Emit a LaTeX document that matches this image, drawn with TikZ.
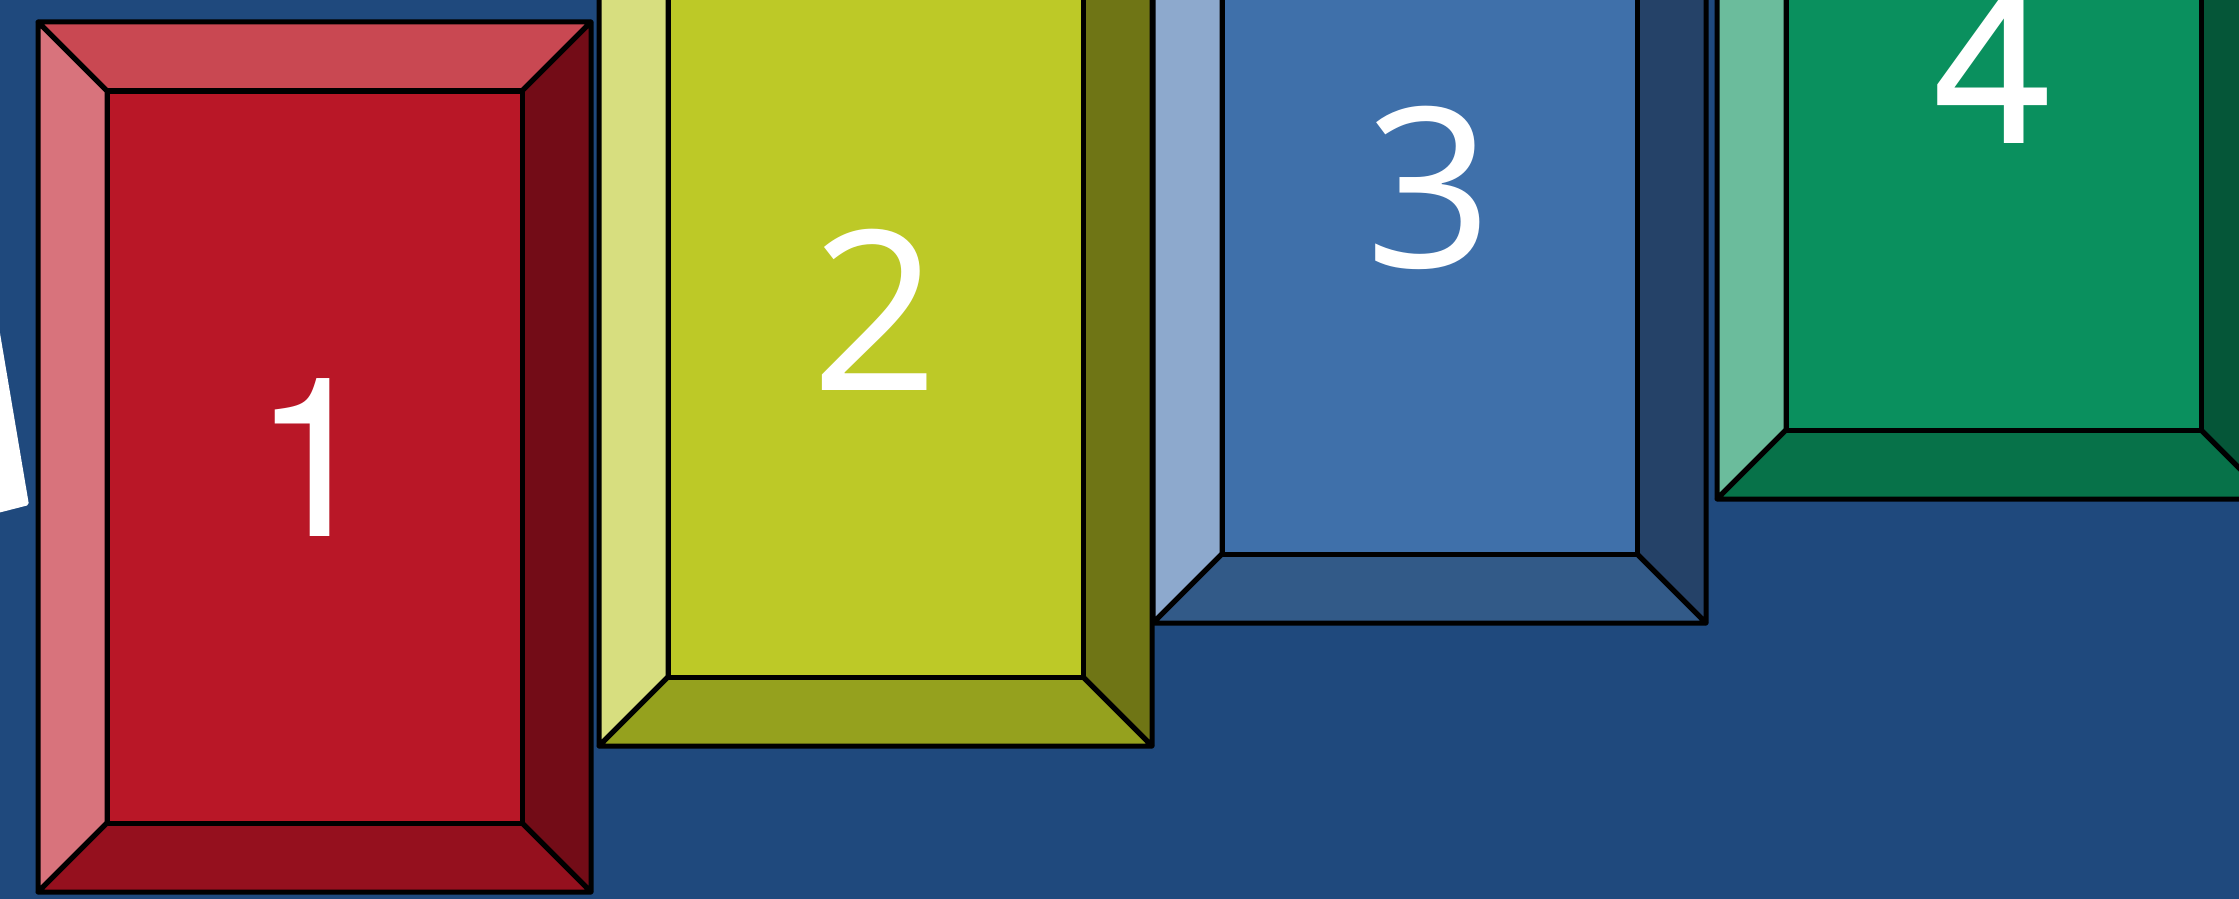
\documentclass[tikz,border=0pt]{standalone}
\usepackage{fontspec}
\setmainfont{TeX Gyre Heros}
\newfontfamily\heros{TeX Gyre Heros}
\newfontfamily\segoe{Open Sans}
\definecolor{bg}{HTML}{1F497D}
\definecolor{rFront}{HTML}{B91727}
\definecolor{rTop}{HTML}{C94852}
\definecolor{rLeft}{HTML}{D8737C}
\definecolor{rRight}{HTML}{730C17}
\definecolor{rBot}{HTML}{95101E}
\definecolor{yFront}{HTML}{BDC927}
\definecolor{yTop}{HTML}{CAD452}
\definecolor{yLeft}{HTML}{D7DE7F}
\definecolor{yRight}{HTML}{6F7515}
\definecolor{yBot}{HTML}{95A11E}
\definecolor{bFront}{HTML}{3F70AA}
\definecolor{bTop}{HTML}{658DBB}
\definecolor{bLeft}{HTML}{8DA9CD}
\definecolor{bRight}{HTML}{254268}
\definecolor{bBot}{HTML}{325A88}
\definecolor{gFront}{HTML}{0A905E}
\definecolor{gTop}{HTML}{3BA67E}
\definecolor{gLeft}{HTML}{6BBC9C}
\definecolor{gRight}{HTML}{055638}
\definecolor{gBot}{HTML}{077249}
\tikzset{
  face/.style={draw=black, line width=5pt, line join=round},
  lab/.style={text=white, inner sep=0pt, anchor=base, scale=5.57}
}
\newcommand\bevbox[9]{%
  \coordinate (#1A) at (#2,{#3-870});
  \coordinate (#1B) at ({#2+553},{#3-870});
  \coordinate (#1C) at ({#2+553},#3);
  \coordinate (#1D) at (#2,#3);
  \coordinate (#1a) at ({#2+69},{#3-801});
  \coordinate (#1b) at ({#2+484},{#3-801});
  \coordinate (#1c) at ({#2+484},{#3-69});
  \coordinate (#1d) at ({#2+69},{#3-69});
  \filldraw[face,fill=#5] (#1A)--(#1B)--(#1b)--(#1a)--cycle;
  \filldraw[face,fill=#6] (#1A)--(#1a)--(#1d)--(#1D)--cycle;
  \filldraw[face,fill=#7] (#1B)--(#1C)--(#1c)--(#1b)--cycle;
  \filldraw[face,fill=#8] (#1D)--(#1d)--(#1c)--(#1C)--cycle;
  \filldraw[face,fill=#4] (#1a)--(#1b)--(#1c)--(#1d)--cycle;
  \node[lab] (#1t) at ({#2+276.5},{#3-356}) {#9};
}
\begin{document}
\begin{tikzpicture}[x=1pt,y=-1pt]
\useasboundingbox (0,0) rectangle (2239,899);
\fill[bg] (0,0) rectangle (2239,899);
\clip (0,0) rectangle (2239,899);
\fill[white, rounded corners=2pt] (-10,274) -- (29,505) -- (-10,515) -- cycle;
\bevbox{one}{38}{892}{rFront}{rTop}{rLeft}{rRight}{rBot}{\fontsize{40}{40}\heros 1}
\bevbox{two}{599}{746}{yFront}{yTop}{yLeft}{yRight}{yBot}{\fontsize{40}{40}\segoe 2}
\bevbox{three}{1153}{623}{bFront}{bTop}{bLeft}{bRight}{bBot}{\fontsize{40}{40}\segoe 3}
\bevbox{four}{1717}{499}{gFront}{gTop}{gLeft}{gRight}{gBot}{\fontsize{40}{40}\heros 4}
\end{tikzpicture}
\end{document}
